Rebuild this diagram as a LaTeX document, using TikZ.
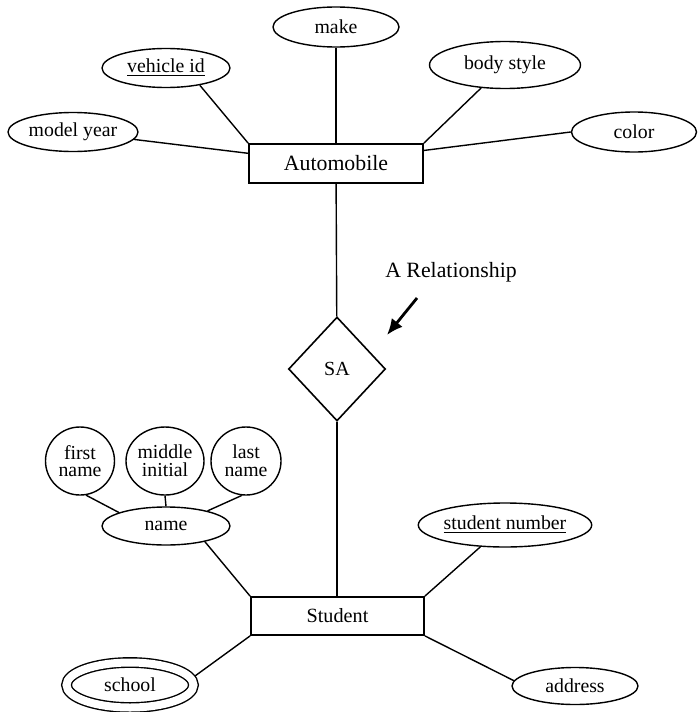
\documentclass[tikz,border=0pt]{standalone}
\usepackage{fontspec}
\setmainfont{Liberation Serif}
\usetikzlibrary{shapes.geometric,arrows.meta,calc}
\tikzset{
  x=0.5pt,y=-0.5pt,
  attr/.style={ellipse,draw,line width=0.7pt,inner sep=0pt,font=\fontsize{9.9}{8.8}\selectfont,align=center},
  entity/.style={rectangle,draw,line width=0.9pt,inner sep=0pt},
  relbox/.style={diamond,draw,line width=0.8pt,inner sep=0pt,font=\fontsize{10}{12}\selectfont},
  conn/.style={line width=0.7pt},
  multiattr/.style={attr,double,double distance=4pt,outer sep=2.75pt}
}
\begin{document}
\begin{tikzpicture}
\useasboundingbox (0,0) rectangle (698,712);
% Automobile entity and attributes
\node[entity,minimum width=87pt,minimum height=19.5pt,font=\fontsize{10.9}{12}\selectfont] (auto) at (336,163.5) {Automobile};
\node[attr,minimum width=63pt,minimum height=20pt] (make) at (336,27) {make};
\node[attr,minimum width=64pt,minimum height=19.5pt] (vid) at (166,68) {\underline{vehicle id}};
\node[attr,minimum width=65pt,minimum height=19.5pt] (my) at (73,132) {model year};
\node[attr,minimum width=75.5pt,minimum height=23.5pt] (bs) at (505,65) {body style};
\node[attr,minimum width=62.5pt,minimum height=20pt] (color) at (634,132) {color};
% relationship
\node[relbox,minimum width=48.5pt,minimum height=52pt] (sa) at (337,369) {SA};
\node[font=\fontsize{10.9}{12}\selectfont,inner sep=0pt] (rellabel) at (451,272) {A Relationship};
\coordinate (arrS) at (417,298);
\coordinate (arrE) at (387,335);
% Student entity and attributes
\node[entity,minimum width=86.5pt,minimum height=19pt,font=\fontsize{10.1}{12}\selectfont] (student) at (337.5,616) {Student};
\node[attr,minimum width=34.5pt,minimum height=34pt] (fn) at (80,461) {first\\name};
\node[attr,minimum width=39pt,minimum height=34pt] (mi) at (165,461) {middle\\initial};
\node[attr,minimum width=35pt,minimum height=34pt] (ln) at (246,461) {last\\name};
\node[attr,minimum width=64pt,minimum height=19pt] (name) at (166,526) {name};
\node[attr,minimum width=82pt,minimum height=22pt] (sn) at (505,525) {\underline{student number}};
\node[attr,minimum width=63pt,minimum height=18.5pt] (addr) at (575,686) {address};
\node[multiattr,minimum width=63.5pt,minimum height=22.5pt] (school) at (130,685) {school};
% connectors
\draw[conn] (make) -- (auto);
\draw[conn] (vid.-27) -- (auto.north west);
\draw[conn] (my) -- ($(auto.north west)!0.25!(auto.south west)$);
\draw[conn] (bs) -- (auto.north east);
\draw[conn] (color.west) -- ($(auto.north east)!0.18!(auto.south east)$);
\draw[conn] (auto) -- (sa);
\draw[conn] (sa.south) -- (sa.south |- student.north);
\draw[line width=1.4pt,-{Latex[length=8pt,width=7pt]}] (arrS) -- (arrE);
\draw[conn] (fn.-80) -- (name.164);
\draw[conn] (mi.south) -- (name.north);
\draw[conn] (ln.-97) -- (name.20);
\draw[conn] (name.-22) -- (student.north west);
\draw[conn] (sn) -- (student.north east);
\draw[conn] (school.8) -- (student.south west);
\draw[conn] (student.south east) -- (addr.175);
\end{tikzpicture}
\end{document}
